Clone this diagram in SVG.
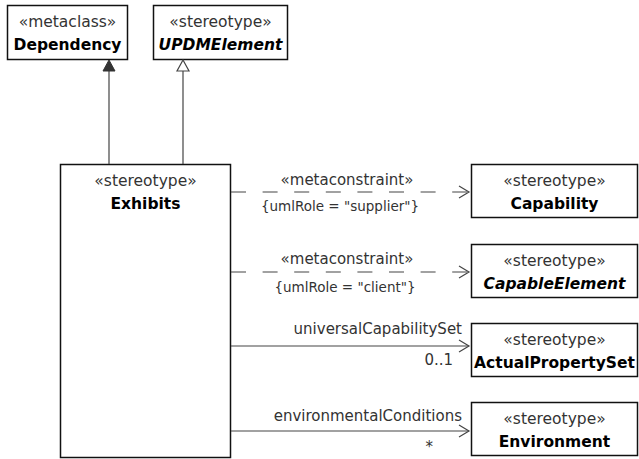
<svg xmlns="http://www.w3.org/2000/svg" width="639" height="459" viewBox="0 0 639 459">
<defs>
<style>
.box{fill:#fff;stroke:#111;stroke-width:1.5}
.st{font-family:"DejaVu Sans",sans-serif;font-size:15.5px;fill:#333;text-anchor:middle}
.nm{font-family:"DejaVu Sans",sans-serif;font-size:15.5px;font-weight:bold;fill:#000;text-anchor:middle}
.it{font-style:italic}
.lbl{font-family:"DejaVu Sans",sans-serif;font-size:15px;fill:#333}
.cn{font-family:"DejaVu Sans",sans-serif;font-size:13.5px;fill:#333;text-anchor:middle}
.ln{stroke:#444;stroke-width:1.2;fill:none}
.dash{stroke-dasharray:15 16.6}
</style>
</defs>
<g id="Dependency">
<rect class="box" x="7.5" y="5.5" width="120" height="54"/>
<text class="st" x="67.5" y="27">«metaclass»</text>
<text class="nm" x="67.5" y="50">Dependency</text>
</g>
<g id="UPDMElement">
<rect class="box" x="153.5" y="5.5" width="134" height="54"/>
<text class="st" x="220.5" y="27">«stereotype»</text>
<text class="nm it" x="220.5" y="50">UPDMElement</text>
</g>
<g id="Exhibits">
<rect class="box" x="60.5" y="164.5" width="170" height="293"/>
<text class="st" x="145.5" y="186">«stereotype»</text>
<text class="nm" x="145.5" y="209">Exhibits</text>
</g>
<g id="Capability">
<rect class="box" x="471.5" y="164.5" width="166" height="53"/>
<text class="st" x="554.5" y="186">«stereotype»</text>
<text class="nm" x="554.5" y="209">Capability</text>
</g>
<g id="CapableElement">
<rect class="box" x="471.5" y="244.5" width="166" height="53"/>
<text class="st" x="554.5" y="266">«stereotype»</text>
<text class="nm it" x="554.5" y="289">CapableElement</text>
</g>
<g id="ActualPropertySet">
<rect class="box" x="471.5" y="323.5" width="166" height="53"/>
<text class="st" x="554.5" y="345">«stereotype»</text>
<text class="nm" x="554.5" y="368">ActualPropertySet</text>
</g>
<g id="Environment">
<rect class="box" x="471.5" y="402.5" width="166" height="53"/>
<text class="st" x="554.5" y="424">«stereotype»</text>
<text class="nm" x="554.5" y="447">Environment</text>
</g>
<g id="connectors">
<line class="ln" x1="109" y1="164" x2="109" y2="71"/>
<polygon points="109,60 103,71 115,71" fill="#333" stroke="#333" stroke-width="1"/>
<line class="ln" x1="183" y1="164" x2="183" y2="71"/>
<polygon points="183,60 177,71 189,71" fill="#fff" stroke="#444" stroke-width="1.2"/>
<line class="ln dash" x1="231" y1="192" x2="469" y2="192"/>
<path class="ln" d="M459,186 L469,192 L459,198"/>
<text class="cn" x="347" y="185" style="font-size:15px">«metaconstraint»</text>
<text class="cn" x="340" y="211">{umlRole = "supplier"}</text>
<line class="ln dash" x1="231" y1="272" x2="469" y2="272"/>
<path class="ln" d="M459,266 L469,272 L459,278"/>
<text class="cn" x="347" y="264" style="font-size:15px">«metaconstraint»</text>
<text class="cn" x="345" y="292">{umlRole = "client"}</text>
<line class="ln" x1="231" y1="346" x2="469" y2="346"/>
<path class="ln" d="M459,340 L469,346 L459,352"/>
<text class="lbl" x="462" y="334" text-anchor="end">universalCapabilitySet</text>
<text class="lbl" x="453" y="365" text-anchor="end">0..1</text>
<line class="ln" x1="231" y1="431" x2="469" y2="431"/>
<path class="ln" d="M459,425 L469,431 L459,437"/>
<text class="lbl" x="462" y="421" text-anchor="end">environmentalConditions</text>
<text class="lbl" x="433" y="452" text-anchor="end">*</text>
</g>
</svg>
